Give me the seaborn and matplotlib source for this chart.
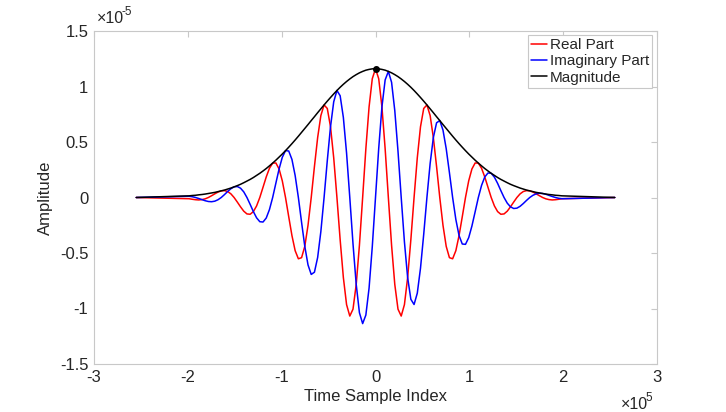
import numpy as np
import matplotlib
matplotlib.use("Agg")
import matplotlib.pyplot as plt
import seaborn as sns

# Time sample index (units of 1e5)
time_idx = [-2.55,
    -1.9865, -1.9523, -1.918, -1.8838, -1.8495, -1.8153, -1.781, -1.7468, -1.7125, -1.6783,
    -1.644, -1.6098, -1.5755, -1.5413, -1.507, -1.4728, -1.4385, -1.4043, -1.37, -1.3358,
    -1.3015, -1.2673, -1.233, -1.1988, -1.1645, -1.1303, -1.096, -1.0618, -1.0275, -0.9933,
    -0.959, -0.9248, -0.8905, -0.8563, -0.822, -0.7878, -0.7535, -0.7193, -0.685, -0.6508,
    -0.6165, -0.5823, -0.548, -0.5138, -0.4795, -0.4453, -0.411, -0.3768, -0.3425, -0.3083,
    -0.274, -0.2398, -0.2055, -0.1713, -0.137, -0.1028, -0.0685, -0.0343,
    0.0,
    0.0343, 0.0685, 0.1028, 0.137, 0.1713, 0.2055, 0.2398, 0.274, 0.3083, 0.3425,
    0.3768, 0.411, 0.4453, 0.4795, 0.5138, 0.548, 0.5823, 0.6165, 0.6508, 0.685,
    0.7193, 0.7535, 0.7878, 0.822, 0.8563, 0.8905, 0.9248, 0.959, 0.9933, 1.0275,
    1.0618, 1.096, 1.1303, 1.1645, 1.1988, 1.233, 1.2673, 1.3015, 1.3358, 1.37,
    1.4043, 1.4385, 1.4728, 1.507, 1.5413, 1.5755, 1.6098, 1.644, 1.6783, 1.7125,
    1.7468, 1.781, 1.8153, 1.8495, 1.8838, 1.918, 1.9523, 1.9865,
    2.55]

# Amplitudes (units of 1e-5)
real_part = [0.0,
    -0.011, -0.016, -0.020, -0.022, -0.019, -0.012, 0.000,
    0.016, 0.033, 0.049, 0.060, 0.062, 0.054, 0.033, 0.000,
    -0.041, -0.084, -0.123, -0.148, -0.151, -0.127, -0.076, 0.000,
    0.092, 0.185, 0.263, 0.310, 0.311, 0.257, 0.150, 0.000,
    -0.173, -0.343, -0.479, -0.552, -0.542, -0.440, -0.251, 0.000,
    0.279, 0.540, 0.738, 0.834, 0.802, 0.637, 0.357, 0.000,
    -0.380, -0.721, -0.965, -1.068, -1.006, -0.783, -0.430, 0.000,
    0.439, 0.816, 1.070,
    1.160,
    1.070, 0.816, 0.439, 0.000, -0.430, -0.783, -1.006, -1.068, -0.965, -0.721,
    -0.380, 0.000, 0.357, 0.637, 0.802, 0.834, 0.738, 0.540, 0.279, 0.000,
    -0.251, -0.440, -0.542, -0.552, -0.479, -0.343, -0.173, 0.000, 0.150, 0.257,
    0.311, 0.310, 0.263, 0.185, 0.092, 0.000, -0.076, -0.127, -0.151, -0.148,
    -0.123, -0.084, -0.041, 0.000, 0.033, 0.054, 0.062, 0.060, 0.049, 0.033,
    0.016, 0.000, -0.012, -0.019, -0.022, -0.020, -0.016, -0.011,
    0.0]

imag_part = [0.0,
    0.011, 0.007, 0.000,
    -0.009, -0.019, -0.029, -0.036, -0.038, -0.033, -0.020, 0.000,
    0.026, 0.054, 0.079, 0.096, 0.099, 0.084, 0.051, 0.000,
    -0.062, -0.127, -0.183, -0.218, -0.221, -0.185, -0.109, 0.000,
    0.129, 0.257, 0.362, 0.422, 0.419, 0.343, 0.198, 0.000,
    -0.224, -0.440, -0.607, -0.693, -0.673, -0.540, -0.306, 0.000,
    0.332, 0.637, 0.862, 0.964, 0.917, 0.721, 0.400, 0.000,
    -0.417, -0.783, -1.038, -1.136, -1.059, -0.816, -0.443,
    0.000,
    0.443, 0.816, 1.059, 1.136, 1.038, 0.783, 0.417, 0.000, -0.400, -0.721,
    -0.917, -0.964, -0.862, -0.637, -0.332, 0.000, 0.306, 0.540, 0.673, 0.693,
    0.607, 0.440, 0.224, 0.000, -0.198, -0.343, -0.419, -0.422, -0.362, -0.257,
    -0.129, 0.000, 0.109, 0.185, 0.221, 0.218, 0.183, 0.127, 0.062, 0.000,
    -0.051, -0.084, -0.099, -0.096, -0.079, -0.054, -0.026, 0.000, 0.020, 0.033,
    0.038, 0.036, 0.029, 0.019, 0.009, 0.000, -0.007, -0.011,
    0.0]

magnitude = [0.0,
    0.015, 0.018, 0.020, 0.024, 0.027, 0.031, 0.036, 0.041, 0.046, 0.053,
    0.060, 0.067, 0.076, 0.085, 0.096, 0.107, 0.119, 0.133, 0.148, 0.163,
    0.180, 0.199, 0.218, 0.239, 0.261, 0.285, 0.310, 0.336, 0.364, 0.392,
    0.422, 0.453, 0.485, 0.518, 0.552, 0.587, 0.622, 0.657, 0.693, 0.728,
    0.764, 0.799, 0.834, 0.868, 0.901, 0.933, 0.964, 0.993, 1.020, 1.045,
    1.068, 1.089, 1.107, 1.123, 1.136, 1.147, 1.154, 1.159,
    1.160,
    1.159, 1.154, 1.147, 1.136, 1.123, 1.107, 1.089, 1.068, 1.045, 1.020,
    0.993, 0.964, 0.933, 0.901, 0.868, 0.834, 0.799, 0.764, 0.728, 0.693,
    0.657, 0.622, 0.587, 0.552, 0.518, 0.485, 0.453, 0.422, 0.392, 0.364,
    0.336, 0.310, 0.285, 0.261, 0.239, 0.218, 0.199, 0.180, 0.163, 0.148,
    0.133, 0.119, 0.107, 0.096, 0.085, 0.076, 0.067, 0.060, 0.053, 0.046,
    0.041, 0.036, 0.031, 0.027, 0.024, 0.020, 0.018, 0.015,
    0.0]

x_ticks = [-3, -2, -1, 0, 1, 2, 3]
y_ticks = [-1.5, -1, -0.5, 0, 0.5, 1, 1.5]
series_labels = ["Real Part", "Imaginary Part", "Magnitude"]

sns.set_theme(style="white")
plt.rcParams['font.family'] = ['Liberation Sans', 'DejaVu Sans']
plt.rcParams['axes.unicode_minus'] = False

axis_gray = '#c8c8c8'
text_gray = '#262626'
W, H = 726, 412

fig = plt.figure(figsize=(7.26, 4.12), dpi=100)
ax = fig.add_axes([94 / W, 1 - 364 / H, 563 / W, 333 / H])

sns.lineplot(x=time_idx, y=real_part, color='red', lw=1.1, label=series_labels[0], ax=ax)
sns.lineplot(x=time_idx, y=imag_part, color='blue', lw=1.1, label=series_labels[1], ax=ax)
sns.lineplot(x=time_idx, y=magnitude, color='black', lw=1.1, label=series_labels[2], ax=ax)

# peak marker on the magnitude
peak = int(np.argmax(magnitude))
ax.plot(time_idx[peak], magnitude[peak], 'o', color='black', ms=4, zorder=5)

ax.set_xlim(-3, 3)
ax.set_ylim(-1.5, 1.5)
ax.set_xticks(x_ticks)
ax.set_yticks(y_ticks)
ax.set_xticklabels([f"{t:g}" for t in x_ticks])
ax.set_yticklabels([f"{t:g}" for t in y_ticks])
ax.tick_params(direction='in', length=4, width=0.8, top=True, right=True,
               color=axis_gray, labelcolor=text_gray, labelsize=12, pad=4)
for sp in ax.spines.values():
    sp.set_color(axis_gray)
    sp.set_linewidth(0.8)

ax.set_xlabel("Time Sample Index", fontsize=12, color=text_gray, labelpad=3)
ax.set_ylabel("Amplitude", fontsize=12, color=text_gray, labelpad=5)

leg = ax.legend(loc='upper right', bbox_to_anchor=(1 - 5 / 563, 1 - 4 / 333),
                fontsize=11, frameon=True, fancybox=False, framealpha=1,
                borderpad=0.2, labelspacing=0.15, handlelength=1.1, handletextpad=0.15,
                borderaxespad=0)
leg.get_frame().set_edgecolor(axis_gray)
leg.get_frame().set_linewidth(0.8)
for t in leg.get_texts():
    t.set_color(text_gray)


# exponent labels "x10^-5" / "x10^5", hyphen minus as in the original
def exponent_label(x_left, y_base, power):
    base = fig.text(x_left / W, 1 - y_base / H, '×10', fontsize=11.5, color=text_gray,
                    ha='left', va='baseline')
    fig.canvas.draw()
    bb = base.get_window_extent()
    fig.text((bb.x1 - 2.5) / W, (1 - y_base / H) + 8 / H, power, fontsize=8.5,
             color=text_gray, ha='left', va='baseline')


exponent_label(97, 23, '-5')
exponent_label(621, 409, '5')

fig.savefig("out.png", dpi=100, facecolor='white')
